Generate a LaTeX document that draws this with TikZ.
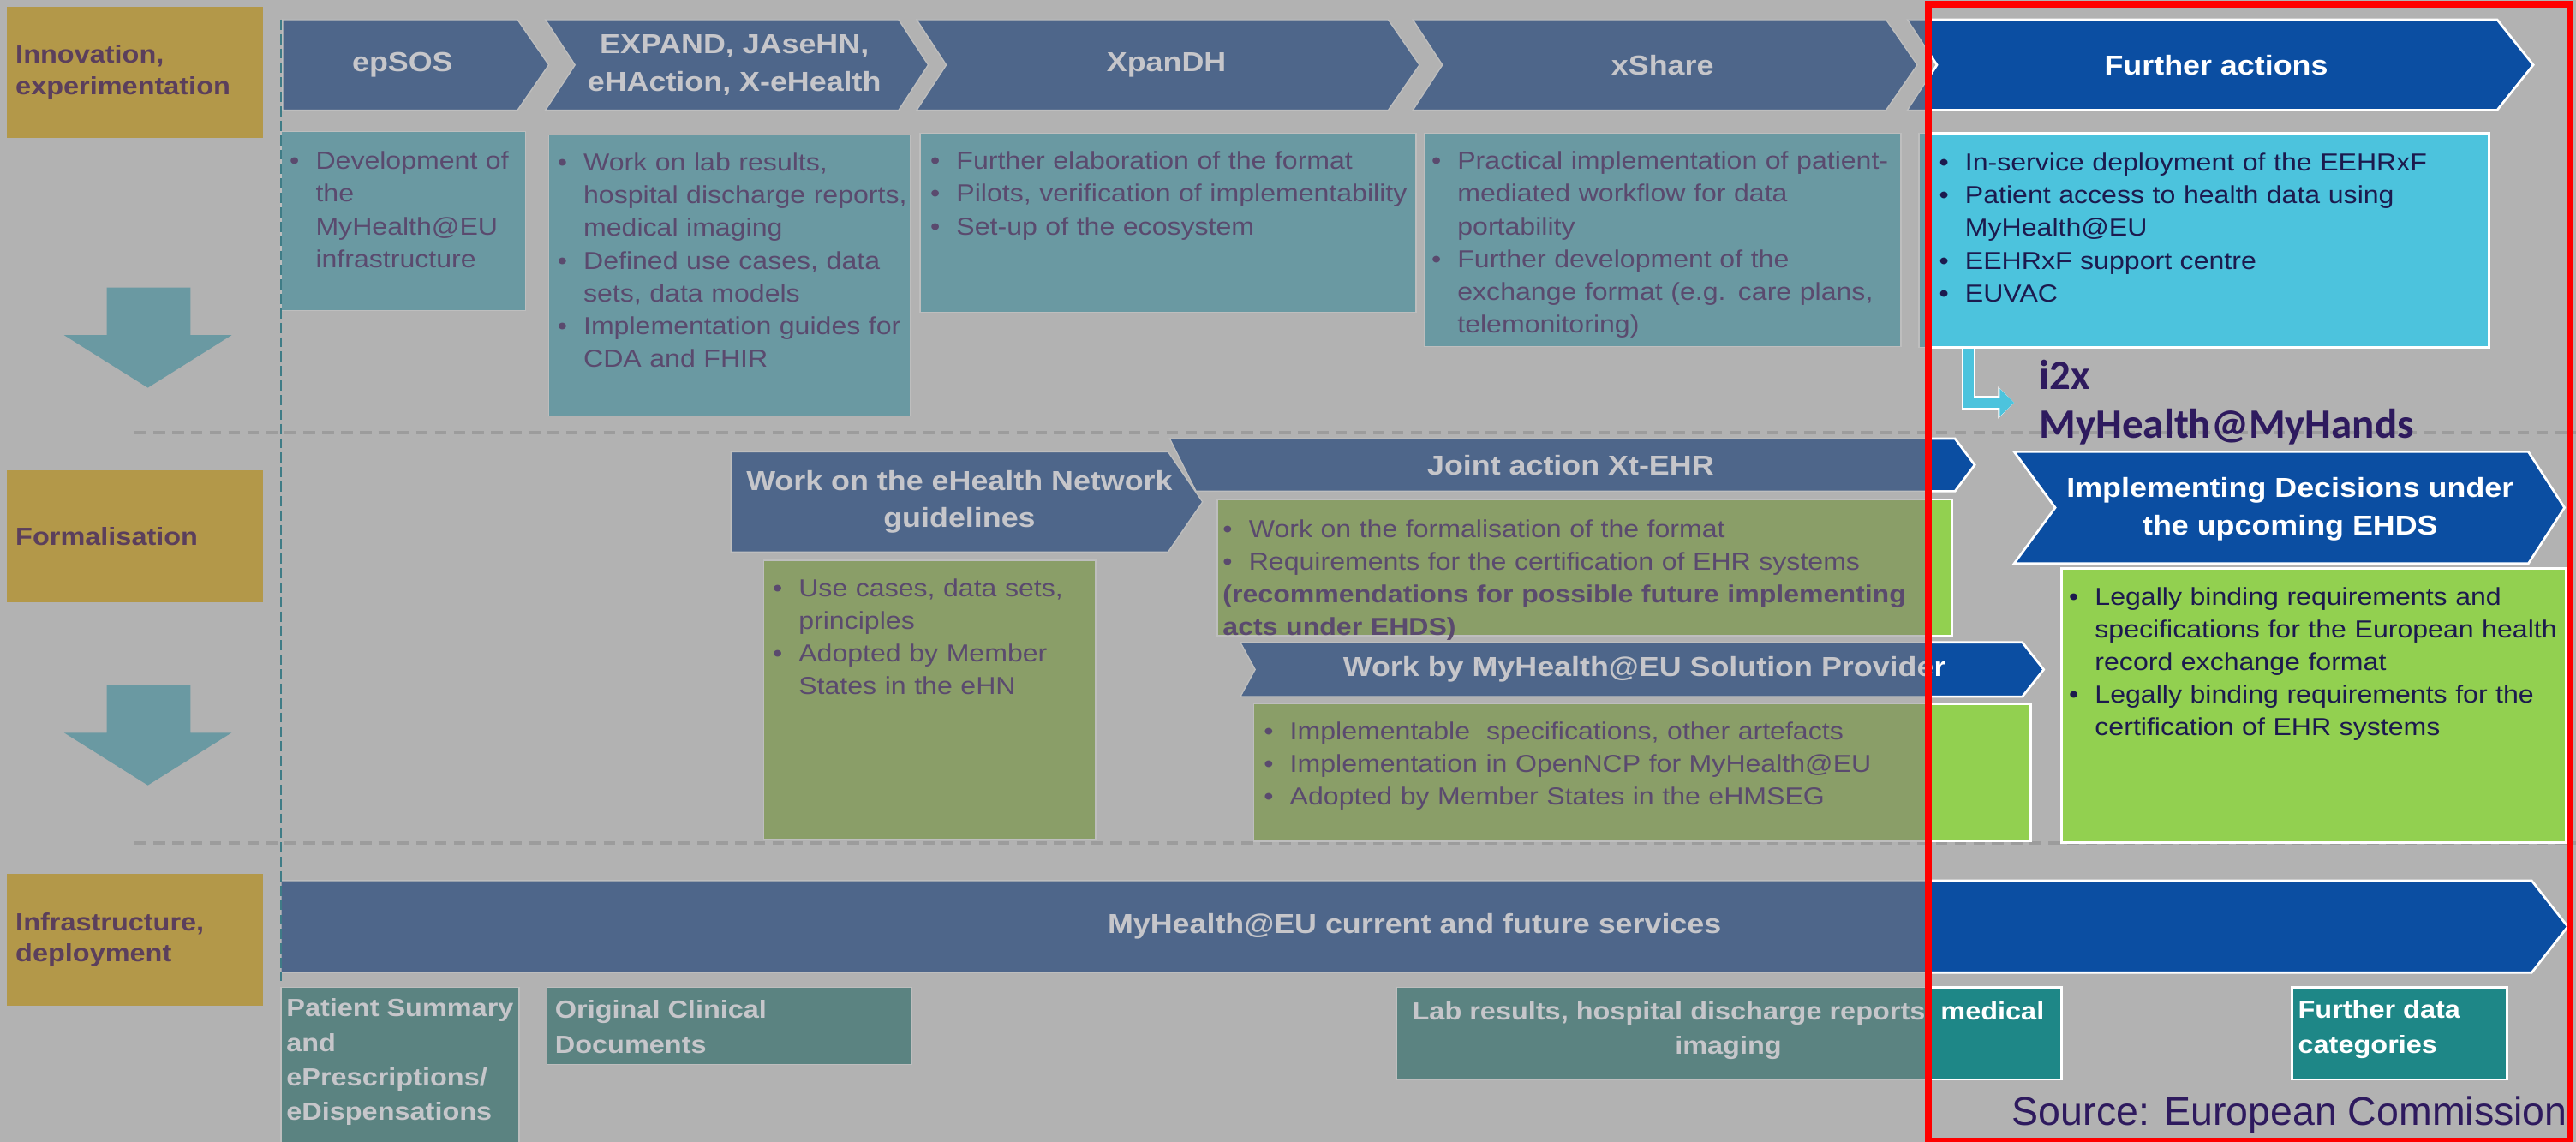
\documentclass[tikz,border=0pt]{standalone}
\usepackage{fontspec}
\setmainfont{Liberation Sans}[FakeStretch=1.12]
\newfontfamily\srcfont{Liberation Sans}
\newfontfamily\calfont{Carlito}
\usetikzlibrary{arrows.meta}

\definecolor{bg}{HTML}{B2B2B2}
\definecolor{gold}{HTML}{B39849}
\definecolor{chevD}{HTML}{4E668A}
\definecolor{chevB}{HTML}{0B4EA2}
\definecolor{tealD}{HTML}{6A99A2}
\definecolor{cyanB}{HTML}{4CC3DD}
\definecolor{greenD}{HTML}{8A9E68}
\definecolor{greenB}{HTML}{92D050}
\definecolor{petrolD}{HTML}{5B8381}
\definecolor{petrolB}{HTML}{1E8787}
\definecolor{txtD}{HTML}{5A4A6E}
\definecolor{txtB}{HTML}{1C1A4E}
\definecolor{headD}{HTML}{C6C6CA}
\definecolor{labtxt}{HTML}{5B3F5C}
\definecolor{plum}{HTML}{2E1A5E}
\definecolor{dashgray}{HTML}{9C9C9C}
\definecolor{vline}{HTML}{3F7C86}
\definecolor{edgeD}{HTML}{BEBEBE}

% bullet with hanging indent
\newcommand\bl[1]{\par\hangindent=9pt\hangafter=1\noindent\makebox[9pt][l]{\textbullet}{\let\\\newline#1}\par}
% shape: dim left of the frame, bright inside it
\newcommand\twotone[3]{%
  \filldraw[fill=#1, draw=edgeD, line width=.4pt] #3;
  \begin{scope}
    \clip (1174,0) rectangle (1568,695);
    \filldraw[fill=#2, draw=white, line width=.8pt] #3;
  \end{scope}}

\begin{document}
\begin{tikzpicture}[x=0.02cm, y=-0.02cm, every node/.style={inner sep=0pt},
  phase/.style={fill=gold, text width=2.9cm, inner xsep=.11cm, minimum height=1.6cm, align=left, text=labtxt, font=\bfseries\fontsize{8.6}{10.8}\selectfont},
  head/.style={align=center, text=headD, font=\bfseries\fontsize{9.5}{13}\selectfont},
  headB/.style={head, text=white},
  body/.style={anchor=north west, text width=9cm, align=left, text=txtD, font=\fontsize{8.5}{11.3}\selectfont},
  bodyB/.style={body, text=txtB},
  cat/.style={anchor=north west, align=left, text=headD, font=\bfseries\fontsize{8.6}{12}\selectfont},
  catB/.style={cat, text=white},
  sep/.style={dashgray, line width=1.1pt, dash pattern=on 4pt off 2.5pt},
  elbow/.style={draw=cyanB, line width=3.8pt, -{Triangle[length=5pt,width=9.4pt]},
    preaction={draw=white, line width=4.6pt, -{Triangle[length=5.6pt,width=10.8pt]}}}]
\useasboundingbox (0,0) rectangle (1568,695);
\fill[bg] (0,0) rectangle (1568,695);
\draw[sep] (82,263.5) -- (1568,263.5);
\draw[sep] (82,513) -- (1568,513);

% phases
\node[phase] (inno) at (82,44) {Innovation,\\experimentation};
\node[phase] (formal) at (82,326.5) {Formalisation};
\node[phase] (infra) at (82,572) {Infrastructure,\\deployment};
\foreach \dy in {0,242}
  \fill[tealD, shift={(0,\dy)}] (65,175) -- (116,175) -- (116,204) -- (141,204) -- (90,236) -- (39,204) -- (65,204) -- cycle;

% innovation row
\twotone{chevD}{chevB}{(172,12) -- (315,12) -- (334,39.5) -- (315,67) -- (172,67) -- cycle}
\twotone{chevD}{chevB}{(332,12) -- (547,12) -- (565,39.5) -- (547,67) -- (332,67) -- (350,39.5) -- cycle}
\twotone{chevD}{chevB}{(558,12) -- (845,12) -- (864,39.5) -- (845,67) -- (558,67) -- (576,39.5) -- cycle}
\twotone{chevD}{chevB}{(860,12) -- (1148,12) -- (1167,39.5) -- (1148,67) -- (860,67) -- (878,39.5) -- cycle}
\twotone{chevD}{chevB}{(1161,12) -- (1520,12) -- (1542,39.5) -- (1520,67) -- (1161,67) -- (1179,39.5) -- cycle}
\twotone{tealD}{cyanB}{(171,80) rectangle (320,189)}
\twotone{tealD}{cyanB}{(334,82) rectangle (554,253)}
\twotone{tealD}{cyanB}{(560,81) rectangle (862,190)}
\twotone{tealD}{cyanB}{(867,81) rectangle (1157,211)}
\twotone{tealD}{cyanB}{(1168,81) rectangle (1515,211.5)}

% formalisation row
\twotone{chevD}{chevB}{(712,267) -- (1190,267) -- (1202,283) -- (1190,299) -- (728,299) -- cycle}
\twotone{chevD}{chevB}{(445,275) -- (711,275) -- (732,305.5) -- (711,336) -- (445,336) -- cycle}
\twotone{chevD}{chevB}{(755,391) -- (1231,391) -- (1244,407.5) -- (1231,424) -- (755,424) -- (764,407.5) -- cycle}
\twotone{chevD}{chevB}{(1226,275) -- (1539,275) -- (1561,309) -- (1539,343) -- (1226,343) -- (1251,309) -- cycle}
\twotone{greenD}{greenB}{(465,341) rectangle (667,511)}
\twotone{greenD}{greenB}{(741,304) rectangle (1188,387)}
\twotone{greenD}{greenB}{(763,428.5) rectangle (1236,512)}
\twotone{greenD}{greenB}{(1255,346) rectangle (1562,513)}

% infrastructure row
\twotone{chevD}{chevB}{(171,536) -- (1541,536) -- (1563,564) -- (1541,592) -- (171,592) -- cycle}
\twotone{petrolD}{petrolB}{(171,601) rectangle (316,697)}
\twotone{petrolD}{petrolB}{(333,601) rectangle (555,648)}
\twotone{petrolD}{petrolB}{(850,601) rectangle (1255,657)}
\twotone{petrolD}{petrolB}{(1395,601) rectangle (1526,657)}

% titles
\node[head] (epsos) at (245,39.5) {epSOS};
\node[head] (expand) at (447,39.5) {EXPAND, JAseHN,\\eHAction, X-eHealth};
\node[head] (xpandh) at (710,39.5) {XpanDH};
\node[head] (xshare) at (1012,39.5) {xShare};
\node[headB] (further) at (1349,39.5) {Further actions};
\node[head] (ehn) at (584,305.5) {Work on the eHealth Network\\guidelines};
\node[head] (xtehr) at (956,283) {Joint action Xt-EHR};
\node[head] (provider) at (1001,407.5) {Work by MyHealth@EU Solution Provide\textcolor{white}{r}};
\node[headB] (ehds) at (1394,310) {Implementing Decisions under\\the upcoming EHDS};
\node[head] (services) at (861,564) {MyHealth@EU current and future services};

% contents
\node[body] (epsosT) at (176,83) {\bl{Development of\\the\\MyHealth@EU\\infrastructure}};
\node[body] (expandT) at (339,84) {\bl{Work on lab results,\\hospital discharge reports,\\medical imaging}
  \bl{Defined use cases, data\\sets, data models}
  \bl{Implementation guides for\\CDA and FHIR}};
\node[body] (xpandhT) at (566,83) {\bl{Further elaboration of the format}
  \bl{Pilots, verification of implementability}
  \bl{Set-up of the ecosystem}};
\node[body] (xshareT) at (871,83) {\bl{Practical implementation of patient-\\mediated workflow for data\\portability}
  \bl{Further development of the\\exchange format (e.g. care plans,\\telemonitoring)}};
\node[bodyB] (furtherT) at (1180,84) {\bl{In-service deployment of the EEHRxF}
  \bl{Patient access to health data using\\MyHealth@EU}
  \bl{EEHRxF support centre}
  \bl{EUVAC}};
\node[body] (ehnT) at (470,343) {\bl{Use cases, data sets,\\principles}
  \bl{Adopted by Member\\States in the eHN}};
\node[body] (xtehrT) at (744,307) {\bl{Work on the formalisation of the format}
  \bl{Requirements for the certification of EHR systems}
  \noindent\textbf{(recommendations for possible future implementing\\acts under EHDS)}};
\node[body] (providerT) at (769,430) {\bl{Implementable\ \ specifications, other artefacts}
  \bl{Implementation in OpenNCP for MyHealth@EU}
  \bl{Adopted by Member States in the eHMSEG}};
\node[bodyB] (ehdsT) at (1259,348) {\bl{Legally binding requirements and\\specifications for the European health\\record exchange format}
  \bl{Legally binding requirements for the\\certification of EHR systems}};
\node[cat] (ps) at (174,607.5) {Patient Summary\\and\\ePrescriptions/\\eDispensations};
\node[cat] (ocd) at (337.5,608.5) {Original Clinical\\Documents};
\node[cat, anchor=north, align=center] (lab) at (1052,609.5) {Lab results, hospital discharge reports, \textcolor{white}{medical}\\imaging};
\node[catB] (more) at (1398.5,608.5) {Further data\\categories};

% i2x
\coordinate (fabot) at (1198,212);
\node[anchor=north west, align=left, text=plum, font=\calfont\bfseries\fontsize{14.5}{16.8}\selectfont] (i2x) at (1241,219) {i2x\\MyHealth@MyHands};
\draw[elbow] (fabot) |- ([xshift=-0.3cm]i2x.west);
\node[anchor=base west, text=plum, font=\srcfont\fontsize{13.8}{16}\selectfont] (src) at (1224.5,685) {Source: European Commission};

\draw[vline, line width=.7pt, dash pattern=on 3.5pt off 1.5pt] (171,12) -- (171,597);
\draw[red, line width=2.4pt] (1173.8,2.6) rectangle (1564.5,694.5);
\end{tikzpicture}
\end{document}
